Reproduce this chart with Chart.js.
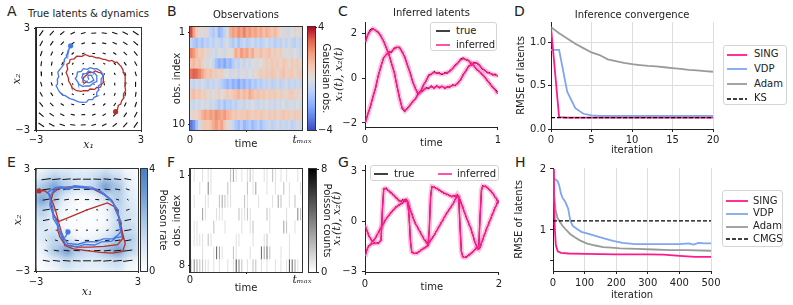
<!DOCTYPE html>
<html>
<head>
<meta charset="utf-8">
<script src="https://cdn.jsdelivr.net/npm/chart.js@4.4.1/dist/chart.umd.min.js"></script>
<style>
  html, body { margin: 0; padding: 0; background: #fff; }
  body { position: relative; width: 793px; height: 305px; overflow: hidden; font-family: "DejaVu Sans", sans-serif; color: #222; }
  canvas { position: absolute; }
  .tag { position: absolute; font-size: 14px; line-height: 14px; }
  .ptitle { position: absolute; font-size: 10px; line-height: 12px; text-align: center; white-space: nowrap; }
  .legend { position: absolute; background: #fff; border: 1px solid #d4d4d4; border-radius: 3px; box-sizing: border-box; font-size: 10px; }
  .legend .txt { position: absolute; height: 12px; line-height: 12px; white-space: nowrap; }
  .legend svg { position: absolute; }
</style>
</head>
<body>
<div class="tag" style="left:7px;top:4px">A</div>
<div class="tag" style="left:167px;top:4px">B</div>
<div class="tag" style="left:338px;top:4px">C</div>
<div class="tag" style="left:514px;top:4px">D</div>
<div class="tag" style="left:7px;top:155px">E</div>
<div class="tag" style="left:167px;top:155px">F</div>
<div class="tag" style="left:338px;top:155px">G</div>
<div class="tag" style="left:515px;top:155px">H</div>
<div class="ptitle" style="left:0;width:177px;top:8px">True latents &amp; dynamics</div>

<canvas id="cA" width="165" height="152" style="left:0;top:0"></canvas>
<canvas id="cB" width="165" height="152" style="left:150px;top:0"></canvas>
<canvas id="cBcb" width="50" height="152" style="left:300px;top:0"></canvas>
<canvas id="cC" width="175" height="152" style="left:330px;top:0"></canvas>
<canvas id="cD" width="220" height="158" style="left:505px;top:0"></canvas>
<canvas id="cE" width="160" height="153" style="left:0;top:152px"></canvas>
<canvas id="cEcb" width="40" height="153" style="left:138px;top:152px"></canvas>
<canvas id="cF" width="165" height="153" style="left:150px;top:152px"></canvas>
<canvas id="cFcb" width="50" height="153" style="left:300px;top:152px"></canvas>
<canvas id="cG" width="175" height="153" style="left:330px;top:152px"></canvas>
<canvas id="cH" width="220" height="153" style="left:505px;top:152px"></canvas>

<script>
// ---------- data ----------

// A: true latent trajectories (start at the dot) and vector field
const aBlueX = [-1.02,-1.10,-1.11,-1.20,-1.19,-1.27,-1.24,-1.38,-1.37,-1.42,-1.41,-1.55,-1.60,-1.73,-1.75,-1.70,-1.78,-1.77,-1.85,-1.72,-1.66,-1.47,-1.33,-1.07,-0.86,-0.57,-0.38,-0.12,0.00,0.23,0.32,0.48,0.47,0.59,0.57,0.73,0.72,0.83,0.76,0.68,0.47,0.33,0.09,-0.05,-0.29,-0.42,-0.63,-0.67,-0.76,-0.59,-0.57,-0.32,-0.19,0.08,0.25,0.45,0.47,0.48,0.32,0.21,0.00,-0.12,-0.33,-0.38,-0.33,-0.07,0.07,0.31,0.19,0.19,-0.01,-0.04,0.03];
const aBlueY = [1.95,1.82,1.77,1.59,1.54,1.37,1.31,1.17,1.15,0.95,0.86,0.67,0.61,0.44,0.38,0.12,-0.01,-0.28,-0.40,-0.65,-0.75,-0.95,-0.98,-1.15,-1.21,-1.35,-1.37,-1.36,-1.21,-1.21,-1.08,-1.01,-0.79,-0.65,-0.40,-0.28,-0.01,0.15,0.38,0.47,0.61,0.59,0.67,0.57,0.61,0.45,0.41,0.15,0.03,-0.21,-0.30,-0.45,-0.40,-0.41,-0.25,-0.15,0.08,0.19,0.38,0.39,0.47,0.33,0.28,0.07,-0.01,-0.21,-0.21,-0.07,0.15,0.22,0.23,0.12,-0.04];
const aRedX = [1.55,1.66,1.70,1.84,1.90,2.01,2.00,2.12,2.08,2.14,2.09,2.10,2.00,1.98,1.85,1.78,1.62,1.53,1.33,1.18,0.95,0.83,0.57,0.43,0.19,0.05,-0.19,-0.37,-0.67,-0.82,-1.05,-1.09,-1.24,-1.19,-1.28,-1.15,-1.14,-0.99,-0.95,-0.75,-0.67,-0.42,-0.29,-0.02,0.09,0.35,0.47,0.68,0.76,0.88,0.86,0.83,0.67,0.58,0.38,0.23,0.00,-0.09,-0.29,-0.32,-0.23,-0.05];
const aRedY = [-1.92,-1.78,-1.56,-1.48,-1.27,-1.13,-0.88,-0.68,-0.40,-0.25,-0.01,0.15,0.38,0.52,0.76,0.82,1.00,0.97,1.09,1.05,1.15,1.15,1.25,1.24,1.34,1.33,1.44,1.33,1.34,1.19,1.15,0.95,0.86,0.57,0.38,0.07,-0.11,-0.38,-0.50,-0.65,-0.69,-0.73,-0.69,-0.69,-0.59,-0.61,-0.50,-0.48,-0.30,-0.18,0.08,0.22,0.38,0.39,0.47,0.37,0.38,0.25,0.08,-0.18,-0.25,-0.10];
const aGridX = [-2.7,-2.1,-1.5,-0.9,-0.3,0.3,0.9,1.5,2.1,2.7];
const aGridY = [2.7,2.1,1.5,0.9,0.3,-0.3,-0.9,-1.5,-2.1,-2.7];
const aDx = [
  [-0.22,-0.23,-0.24,-0.25,-0.26,-0.28,-0.29,-0.30,-0.31,-0.32],
  [-0.16,-0.17,-0.18,-0.19,-0.20,-0.22,-0.23,-0.24,-0.25,-0.26],
  [-0.10,-0.11,-0.12,-0.13,-0.14,-0.16,-0.17,-0.18,-0.19,-0.20],
  [-0.04,-0.05,-0.06,-0.07,-0.08,-0.10,-0.11,-0.12,-0.13,-0.14],
  [0.02,0.01,0.00,-0.01,-0.02,-0.04,-0.05,-0.06,-0.07,-0.08],
  [0.08,0.07,0.06,0.05,0.04,0.02,0.01,0.00,-0.01,-0.02],
  [0.14,0.13,0.12,0.11,0.10,0.08,0.07,0.06,0.05,0.04],
  [0.20,0.19,0.18,0.17,0.16,0.14,0.13,0.12,0.11,0.10],
  [0.26,0.25,0.24,0.23,0.22,0.20,0.19,0.18,0.17,0.16],
  [0.32,0.31,0.30,0.29,0.28,0.26,0.25,0.24,0.23,0.22]];
const aDy = [
  [-0.32,-0.26,-0.20,-0.14,-0.08,-0.02,0.04,0.10,0.16,0.22],
  [-0.31,-0.25,-0.19,-0.13,-0.07,-0.01,0.05,0.11,0.17,0.23],
  [-0.30,-0.24,-0.18,-0.12,-0.06,0.00,0.06,0.12,0.18,0.24],
  [-0.29,-0.23,-0.17,-0.11,-0.05,0.01,0.07,0.13,0.19,0.25],
  [-0.28,-0.22,-0.16,-0.10,-0.04,0.02,0.08,0.14,0.20,0.26],
  [-0.26,-0.20,-0.14,-0.08,-0.02,0.04,0.10,0.16,0.22,0.28],
  [-0.25,-0.19,-0.13,-0.07,-0.01,0.05,0.11,0.17,0.23,0.29],
  [-0.24,-0.18,-0.12,-0.06,0.00,0.06,0.12,0.18,0.24,0.30],
  [-0.23,-0.17,-0.11,-0.05,0.01,0.07,0.13,0.19,0.25,0.31],
  [-0.22,-0.16,-0.10,-0.04,0.02,0.08,0.14,0.20,0.26,0.32]];

// B: Gaussian observations, 10 channels x 40 time bins
const obsRows = [
  [3.2,1.8,0.6,0.3,-0.2,0.4,-0.3,-0.8,-1.2,-0.6,-1.8,-1.4,-0.7,-0.2,1.4,1.9,1.6,2.2,1.8,2.4,1.7,2.0,1.5,1.8,1.3,1.6,1.1,1.5,1.2,0.9,1.3,0.8,0.2,-0.3,0.4,-0.5,0.1,0.5,-0.2,0.3],
  [-0.6,-1.2,-1.5,-1.0,-1.4,-0.8,-1.1,-0.5,-0.9,-0.3,-0.6,-1.0,-0.4,-0.2,-0.8,-1.2,-0.6,-1.4,-0.9,-0.5,-1.1,-0.7,-0.3,-0.9,-0.5,-1.0,-0.6,-0.2,-0.8,-0.5,-1.1,-0.6,-0.9,-0.4,-0.8,-0.3,-0.7,-1.0,-0.5,-0.8],
  [2.4,2.0,1.2,0.6,0.9,0.3,0.5,-0.4,-0.2,-0.6,0.1,-0.3,-0.5,0.2,-0.1,0.4,1.6,1.2,2.0,1.5,1.8,1.1,1.6,0.9,0.7,1.2,0.6,0.9,1.1,0.5,0.8,0.4,0.7,0.3,-0.2,0.2,-0.4,0.1,-0.3,-0.6],
  [1.0,1.3,0.8,1.1,0.5,0.2,-0.3,0.1,-0.6,-1.4,-2.0,-1.6,-2.2,-1.5,-1.8,-1.1,-0.6,-0.9,-0.3,-0.7,-0.2,-0.5,0.1,-0.2,0.3,0.0,0.4,0.7,0.5,0.9,0.6,0.8,0.4,0.9,0.6,0.3,0.8,0.5,0.7,0.4],
  [2.6,3.0,2.8,2.4,1.8,1.2,0.9,1.1,0.6,0.8,0.4,0.6,-0.2,0.1,-0.5,-0.3,0.2,-0.6,-0.2,0.3,-0.4,0.0,-0.3,0.2,0.4,0.8,0.5,0.9,0.6,1.0,0.7,0.4,0.8,1.1,0.5,0.7,0.9,0.4,0.6,0.8],
  [-0.4,-0.8,-0.3,-0.6,-0.2,-0.5,-0.9,-0.4,-0.7,-0.3,-0.6,-1.0,-1.4,-1.8,-1.3,-2.0,-1.6,-2.2,-1.5,-1.9,-1.2,-1.6,-1.0,-1.3,-0.8,-1.1,-0.6,-0.9,-0.5,-1.0,-0.7,-0.4,-0.9,-0.6,-0.3,-0.8,-0.5,-0.7,-0.4,-0.6],
  [0.8,1.2,0.6,1.0,0.4,0.7,0.2,0.5,-0.1,0.3,0.6,0.1,0.4,0.8,0.5,0.9,1.1,1.4,0.9,1.3,1.0,1.6,1.2,0.8,1.1,0.7,1.0,0.5,0.8,0.6,0.9,0.4,0.7,0.5,0.3,0.6,0.8,0.4,0.5,0.2],
  [-0.3,-0.6,-0.2,-0.5,0.1,-0.4,-0.2,-0.6,-0.3,-0.8,-1.2,-0.7,-1.4,-0.9,-1.1,-0.6,-1.0,-0.5,-0.3,-0.7,-0.2,-0.5,0.0,-0.4,-0.6,-0.2,-0.5,-0.1,-0.4,-0.3,-0.6,-0.2,-0.4,-0.1,-0.5,-0.3,-0.2,-0.4,-0.1,-0.3],
  [0.2,0.5,0.3,0.8,1.4,1.8,1.5,2.0,1.7,2.2,1.9,1.6,2.0,1.4,1.2,0.8,1.0,0.6,0.9,0.7,1.1,0.8,0.5,0.9,0.6,1.0,0.7,0.5,0.8,0.6,0.9,0.4,0.7,1.0,0.6,0.8,0.5,0.9,0.7,0.6],
  [-3.2,-2.6,-1.4,-0.3,0.6,0.9,0.7,1.1,1.6,2.0,1.4,1.8,0.9,0.3,-0.2,-0.6,-1.2,-1.6,-1.0,-1.8,-1.4,-1.1,-1.7,-1.3,-0.9,-1.5,-1.0,-0.8,-0.5,-0.9,-0.6,-0.3,-0.8,-0.5,-0.7,-0.4,-0.9,-0.6,-0.3,-0.5]];

// C: inferred vs true latents (Gaussian), 51 samples on [0, 1]
const cX1True = [1.55,1.95,2.18,2.24,2.12,2.08,1.86,1.68,1.35,1.09,0.64,0.29,-0.34,-0.86,-1.36,-1.49,-1.31,-1.22,-1.01,-0.94,-0.68,-0.59,-0.28,-0.13,0.16,0.17,0.31,0.21,0.25,0.15,0.26,0.22,0.36,0.42,0.61,0.67,0.87,0.91,0.82,0.81,0.64,0.58,0.38,0.33,0.16,0.09,-0.12,-0.21,-0.42,-0.48,-0.62];
const cX2True = [-2.05,-1.61,-1.29,-0.81,-0.44,0.14,0.51,0.94,1.04,1.18,1.16,1.36,1.37,1.40,1.16,0.96,0.56,0.26,-0.19,-0.44,-0.73,-0.58,-0.56,-0.41,-0.47,-0.33,-0.46,-0.32,-0.44,-0.34,-0.46,-0.37,-0.40,-0.29,-0.34,-0.18,-0.09,0.19,0.31,0.56,0.58,0.72,0.66,0.62,0.41,0.38,0.24,0.26,0.14,0.19,0.08];
const cX1Inf = [1.60,1.92,2.12,2.21,2.15,2.04,1.90,1.65,1.39,1.05,0.68,0.25,-0.30,-0.90,-1.32,-1.45,-1.35,-1.18,-1.05,-0.90,-0.72,-0.55,-0.32,-0.10,0.12,0.20,0.26,0.25,0.21,0.19,0.22,0.26,0.32,0.45,0.57,0.70,0.83,0.88,0.85,0.78,0.68,0.55,0.42,0.30,0.20,0.06,-0.08,-0.25,-0.38,-0.52,-0.70];
const cX2Inf = [-2.00,-1.65,-1.25,-0.85,-0.40,0.10,0.55,0.90,1.08,1.14,1.20,1.32,1.40,1.36,1.20,0.92,0.60,0.22,-0.15,-0.48,-0.68,-0.62,-0.52,-0.45,-0.42,-0.38,-0.42,-0.36,-0.40,-0.37,-0.42,-0.40,-0.36,-0.33,-0.30,-0.22,-0.05,0.15,0.35,0.52,0.62,0.68,0.70,0.58,0.45,0.35,0.28,0.22,0.18,0.14,0.12];

// D: inference convergence, Gaussian
const dIter = [0,1,2,3,4,5,6,7,8,9,10,11,12,13,14,15,16,17,18,19,20];
const dSing = [1.17,0.135,0.13,0.13,0.13,0.13,0.13,0.13,0.13,0.13,0.13,0.13,0.13,0.13,0.13,0.13,0.13,0.13,0.13,0.13,0.13];
const dVdp = [0.91,0.91,0.43,0.24,0.175,0.156,0.152,0.152,0.151,0.151,0.15,0.15,0.15,0.15,0.15,0.15,0.15,0.15,0.15,0.15,0.15];
const dAdam = [1.17,1.10,1.04,0.98,0.93,0.88,0.85,0.80,0.78,0.76,0.745,0.735,0.726,0.72,0.71,0.70,0.69,0.68,0.673,0.665,0.658];
const dKS = 0.13;

// E: Poisson-process latents, rate map and vector field
const eBlueX = [-1.12,-1.26,-1.49,-1.52,-1.70,-1.76,-1.99,-2.01,-2.19,-2.15,-2.29,-1.86,-1.55,-1.12,-0.74,-0.14,0.26,0.84,1.05,1.44,1.55,1.83,1.84,2.03,1.95,2.06,1.70,1.43,0.86,0.45,-0.14,-0.53,-1.20,-1.41,-1.60,-1.71,-1.99,-2.01,-2.20,-2.01,-1.74,-1.16,-0.64,0.04,0.56,1.04,1.26,1.59,1.66,1.89,1.88,1.99,1.86,1.54,0.96,0.54,-0.04,-0.56,-1.14,-1.31,-1.54];
const eBlueY = [-0.70,-0.99,-1.10,-0.84,-0.51,-0.29,0.08,0.36,0.86,1.16,1.64,1.91,1.96,1.88,2.02,1.96,1.94,1.68,1.52,1.18,0.96,0.59,0.29,-0.20,-0.51,-0.98,-1.04,-1.26,-1.29,-1.47,-1.44,-1.57,-1.51,-1.18,-0.76,-0.24,0.34,0.76,1.34,1.66,1.92,1.81,1.94,1.86,1.79,1.46,1.29,0.91,0.64,0.16,-0.16,-0.64,-0.86,-1.09,-1.11,-1.29,-1.28,-1.44,-1.38,-1.14,-0.66];
const eRedX = [-2.82,-2.50,-2.20,-2.00,-1.80,-1.65,-1.45,-1.30,-0.80,0.00,0.80,1.50,2.10,2.25,2.10,1.95,1.80,1.50,1.00,0.40,-0.30,-1.00,-1.60,-2.00,-2.15,-1.95,-1.70,-1.20,-0.60,0.00,0.60,1.20,1.60,1.85,2.00,2.10,1.80,1.00,0.20,-0.60,-1.30,-1.60,-1.75];
const eRedY = [1.71,1.72,1.50,1.00,0.40,-0.20,-0.90,-1.50,-1.70,-1.80,-1.90,-1.95,-1.85,-1.40,-0.80,-0.10,0.50,1.10,1.50,1.80,1.95,1.95,1.90,1.60,1.00,0.30,-0.10,0.10,0.35,0.60,0.80,1.00,0.80,0.20,-0.50,-1.10,-1.45,-1.55,-1.60,-1.60,-1.45,-1.00,-0.50];
const rateX = [-2.625,-1.875,-1.125,-0.375,0.375,1.125,1.875,2.625];
const rateY = [2.625,1.875,1.125,0.375,-0.375,-1.125,-1.875,-2.625];
const rateGrid = [
  [0.8,1.6,1.3,1.0,1.2,1.8,1.2,0.4],
  [2.2,3.6,2.0,1.2,1.6,3.8,2.4,0.6],
  [3.6,2.2,0.6,0.2,0.3,1.0,2.2,0.9],
  [2.0,1.0,0.2,0.1,0.1,0.3,1.8,1.2],
  [1.2,0.8,0.2,0.1,0.1,0.3,1.6,1.4],
  [0.9,1.8,0.8,0.3,0.4,1.0,2.2,2.0],
  [0.5,2.2,3.8,2.0,1.6,2.4,3.8,1.8],
  [0.2,0.6,1.4,1.0,0.8,1.0,1.4,0.4]];
const eGridX = [-2.4,-1.8,-1.2,-0.6,0,0.6,1.2,1.8,2.4];
const eGridY = [2.4,1.8,1.2,0.6,0,-0.6,-1.2,-1.8,-2.4];
const eDx = [
  [0.55,0.50,0.48,0.47,0.46,0.45,0.44,0.42,0.40],
  [0.52,0.45,0.40,0.38,0.37,0.36,0.34,0.30,0.22],
  [0.41,0.33,0.28,0.26,0.25,0.24,0.22,0.17,0.10],
  [0.42,0.22,0.14,0.12,0.12,0.11,0.09,0.02,-0.20],
  [0.38,0.10,0.03,0.01,0.00,-0.01,-0.03,-0.10,-0.38],
  [0.20,-0.02,-0.09,-0.11,-0.12,-0.12,-0.14,-0.22,-0.42],
  [-0.10,-0.17,-0.22,-0.24,-0.25,-0.26,-0.28,-0.33,-0.41],
  [-0.22,-0.30,-0.34,-0.36,-0.37,-0.38,-0.40,-0.45,-0.52],
  [-0.40,-0.42,-0.44,-0.45,-0.46,-0.47,-0.48,-0.50,-0.55]];
const eDy = [0.07,0.05,0.04,0.02,0.00,-0.02,-0.04,-0.05,-0.07];

// F: Poisson counts, 8 channels x 40 time bins
const countRows = [
  [0,1,0,0,1,0,1,1,0,0,0,0,0,0,2,3,1,0,1,0,1,2,1,0,0,0,1,1,0,2,1,0,1,0,1,0,0,0,1,0],
  [0,0,0,1,0,0,4,1,0,0,0,0,0,2,1,0,0,0,0,0,2,0,1,3,0,0,0,1,0,0,1,0,0,2,0,1,0,0,0,1],
  [0,1,0,0,0,1,1,0,0,0,2,3,2,1,1,0,0,0,0,2,1,0,0,0,1,0,0,0,0,1,0,3,2,0,0,1,0,2,0,0],
  [0,0,0,0,3,1,0,0,0,1,1,1,0,0,0,0,0,2,1,1,2,1,0,0,0,0,0,2,1,0,0,0,0,0,1,0,0,0,4,2],
  [0,1,1,0,0,0,0,0,2,0,0,0,1,0,0,0,0,0,1,0,0,1,2,0,0,0,0,0,1,0,0,0,0,3,2,0,0,1,0,0],
  [0,1,1,1,1,0,2,1,0,0,0,0,0,0,0,0,1,1,0,0,0,0,1,0,0,0,1,2,0,0,0,0,0,0,0,1,0,0,0,0],
  [0,0,0,0,1,0,0,0,1,5,3,1,0,0,0,2,1,0,0,0,0,1,0,0,0,5,3,5,2,0,0,0,1,0,0,1,0,0,0,0],
  [1,4,3,2,2,1,1,0,1,0,1,0,0,1,0,1,6,4,2,0,1,0,2,2,0,1,0,1,0,0,1,0,1,0,1,6,5,3,1,0]];

// G: inferred vs true latents (Poisson), 101 samples on [0, 2]
const gX1True = [-2.20,-1.80,-1.64,-1.45,-1.46,-1.31,-1.38,-1.30,-1.37,-1.29,-1.36,-1.21,-1.18,0.70,1.95,1.92,1.99,1.82,1.83,1.68,1.70,1.53,1.54,1.37,1.38,1.21,1.24,1.15,1.29,1.22,1.30,1.17,1.12,0.16,-1.25,-1.90,-1.88,-1.98,-1.90,-1.96,-1.82,-1.84,-1.70,-1.72,-1.60,-1.62,-1.50,-1.50,-0.56,1.44,2.10,2.00,2.05,1.93,1.97,1.84,1.86,1.74,1.76,1.63,1.67,1.57,1.61,1.50,1.53,1.43,1.54,1.48,1.53,1.44,1.49,-0.30,-1.84,-2.10,-2.22,-2.14,-2.18,-2.04,-2.06,-1.92,-1.93,-1.78,-1.76,-1.60,-1.62,-1.50,0.30,1.81,2.14,2.05,2.11,1.99,1.99,1.84,1.84,1.66,1.64,1.42,1.40,1.18,1.10];
const gX2True = [-0.20,-0.52,-0.66,-0.95,-1.00,-1.21,-1.20,-1.08,-1.02,-0.80,-0.72,-0.50,-0.44,-0.22,-0.16,0.06,0.12,0.30,0.32,0.50,0.52,0.69,0.70,0.86,0.84,0.97,0.94,1.07,1.04,1.18,1.16,1.30,1.04,0.90,0.60,0.46,0.16,0.00,-0.24,-0.30,-0.53,-0.60,-0.82,-0.89,-1.11,-1.15,-1.33,-1.34,-1.32,-1.13,-1.09,-0.90,-0.84,-0.62,-0.56,-0.34,-0.28,-0.06,0.00,0.22,0.28,0.50,0.54,0.74,0.78,0.98,1.02,1.26,1.36,1.59,1.36,1.28,1.02,0.87,0.56,0.41,0.12,0.00,-0.28,-0.40,-0.72,-0.92,-1.28,-1.40,-1.68,-1.66,-1.60,-1.30,-1.15,-0.84,-0.70,-0.40,-0.28,0.00,0.12,0.40,0.52,0.80,0.89,1.14,1.22];
const gX1Inf = [-2.14,-1.85,-1.60,-1.50,-1.42,-1.37,-1.34,-1.34,-1.33,-1.34,-1.32,-1.25,-1.14,0.66,1.90,1.96,1.92,1.86,1.79,1.73,1.66,1.58,1.50,1.42,1.34,1.26,1.18,1.20,1.24,1.26,1.26,1.22,1.16,0.20,-1.20,-1.86,-1.92,-1.94,-1.94,-1.92,-1.86,-1.80,-1.74,-1.69,-1.64,-1.58,-1.54,-1.47,-0.60,1.40,2.06,2.04,2.01,1.97,1.94,1.88,1.82,1.78,1.73,1.68,1.64,1.62,1.58,1.54,1.50,1.47,1.50,1.52,1.50,1.48,1.45,-0.34,-1.80,-2.14,-2.18,-2.18,-2.14,-2.08,-2.02,-1.96,-1.90,-1.82,-1.72,-1.64,-1.58,-1.54,0.26,1.85,2.10,2.09,2.07,2.03,1.96,1.88,1.80,1.70,1.60,1.46,1.36,1.22,1.06];
const gX2Inf = [-0.24,-0.48,-0.70,-0.90,-1.04,-1.16,-1.24,-1.12,-0.98,-0.84,-0.68,-0.54,-0.40,-0.26,-0.12,0.02,0.16,0.26,0.36,0.46,0.56,0.65,0.74,0.82,0.88,0.93,0.98,1.03,1.08,1.14,1.20,1.26,1.08,0.86,0.64,0.42,0.20,-0.04,-0.20,-0.34,-0.49,-0.64,-0.78,-0.93,-1.07,-1.19,-1.29,-1.38,-1.28,-1.17,-1.05,-0.94,-0.80,-0.66,-0.52,-0.38,-0.24,-0.10,0.04,0.18,0.32,0.46,0.58,0.70,0.82,0.94,1.06,1.22,1.40,1.55,1.40,1.24,1.06,0.83,0.60,0.37,0.16,-0.04,-0.24,-0.44,-0.68,-0.96,-1.24,-1.44,-1.64,-1.70,-1.56,-1.34,-1.11,-0.88,-0.66,-0.44,-0.24,-0.04,0.16,0.36,0.56,0.76,0.93,1.10,1.26];

// H: inference convergence, Poisson
const hSingIter = [0,3,6,9,15,25,50,100,200,300,350,400,450,500];
const hSing = [2.0,1.5,1.0,0.75,0.65,0.625,0.615,0.61,0.60,0.60,0.595,0.575,0.56,0.56];
const hVdpIter = [0,3,10,15,20,25,30,40,48,55,62,75,90,110,150,190,220,260,300,350,400,430,445,460,480,500];
const hVdp = [1.95,1.85,1.82,1.80,1.72,1.60,1.53,1.45,1.35,1.15,1.07,1.02,0.97,0.94,0.88,0.82,0.79,0.77,0.77,0.77,0.77,0.78,0.76,0.79,0.78,0.78];
const hAdamIter = [0,4,8,14,21,30,42,55,69,85,106,130,159,185,212,265,318,371,424,500];
const hAdam = [2.0,1.55,1.33,1.20,1.14,1.07,1.00,0.93,0.88,0.83,0.78,0.75,0.72,0.71,0.70,0.69,0.68,0.67,0.67,0.66];
const hCmgs = 1.15;

// ---------- styling ----------
const PINK = '#ff1a8c';
const PINK_BAND = 'rgba(255,26,140,0.28)';
const VDP_BLUE = '#7fa6ee';
const ADAM_GRAY = '#9a9a9a';
const RED = '#b5302e';
const BLUE = '#4677e6';
const MATH = { family: '"DejaVu Serif", serif', style: 'italic', size: 11 };
const SANS = { family: '"DejaVu Sans", sans-serif', size: 10 };

const COOLWARM = [[59,76,192],[98,130,234],[141,176,254],[184,208,249],[221,221,221],[245,196,173],[244,154,123],[222,96,77],[180,4,38]];
const BLUES = [[255,255,255],[214,229,244],[165,198,230],[112,158,212],[72,126,196]];
const GREYS = [[255,255,255],[0,0,0]];

function cmap(stops, t) {
  t = Math.max(0, Math.min(1, t));
  const p = t * (stops.length - 1);
  const i = Math.min(Math.floor(p), stops.length - 2);
  const f = p - i;
  const c = stops[i].map((v, k) => Math.round(v + (stops[i + 1][k] - v) * f));
  return `rgb(${c})`;
}

Chart.defaults.font.family = SANS.family;
Chart.defaults.font.size = 10;
Chart.defaults.color = '#222';
Chart.defaults.animation = false;
Chart.defaults.responsive = false;
Chart.defaults.maintainAspectRatio = false;
Chart.defaults.plugins.legend.display = false;
Chart.defaults.plugins.tooltip.enabled = false;
Chart.defaults.elements.point.radius = 0;
Chart.defaults.elements.line.tension = 0;

// box around the axes (imshow / quiver panels and colorbars)
Chart.register({
  id: 'frame',
  afterDatasetsDraw(chart, args, opts) {
    if (!opts.show) return;
    const { ctx, chartArea: a } = chart;
    ctx.save();
    ctx.strokeStyle = opts.color || '#333';
    ctx.lineWidth = 1;
    ctx.strokeRect(a.left - 0.5, a.top - 0.5, a.width + 1, a.height + 1);
    ctx.restore();
  }
});

// smooth rate map in panel E
Chart.register({
  id: 'blur',
  beforeDatasetDraw(chart, args) {
    const ds = chart.data.datasets[args.index];
    if (ds.blur) { chart.ctx.save(); chart.ctx.filter = `blur(${ds.blur}px)`; }
  },
  afterDatasetDraw(chart, args) {
    if (chart.data.datasets[args.index].blur) chart.ctx.restore();
  }
});

function axis(o) {
  const horiz = o.pos === 'bottom';
  return {
    type: 'linear', position: o.pos, min: o.min, max: o.max, reverse: !!o.reverse, offset: false,
    afterBuildTicks: s => { s.ticks = o.ticks.map(v => ({ value: v })); },
    afterFit: s => { if (horiz) s.height = o.size; else s.width = o.size; },
    ticks: {
      autoSkip: false, maxRotation: 0, padding: o.pad, color: '#222', font: o.tickFont,
      callback: (v, i) => o.labels[i]
    },
    grid: {
      drawOnChartArea: !!o.grid, color: '#dedede', lineWidth: 1,
      drawTicks: o.tl > 0, tickLength: o.tl, tickColor: '#222', tickWidth: 1
    },
    border: { display: o.border !== false, color: '#222', width: 1 },
    title: o.title
      ? { display: true, text: o.title, padding: o.tpad, font: o.tfont || SANS, color: '#222' }
      : { display: false }
  };
}

function title(text, top, bottom) {
  return { display: true, text, fullSize: false, padding: { top, bottom }, font: { size: 10, weight: 'normal' }, color: '#222' };
}

const pts = (xs, ys) => xs.slice(0, ys.length).map((x, i) => ({ x, y: ys[i] }));
const series = (ys, T) => ys.map((y, i) => ({ x: i * T / (ys.length - 1), y }));

function quiver(gx, gy, dx, dy) {
  const out = [];
  gy.forEach((y, r) => gx.forEach((x, c) => {
    const u = dx[r][c], v = Array.isArray(dy[r]) ? dy[r][c] : dy[c];
    out.push({ x: x - u / 2, y: y - v / 2 }, { x: x + u / 2, y: y + v / 2 }, { x: x, y: null });
  }));
  return out;
}

function trajectory(data, color, order) {
  return {
    data, showLine: true, borderColor: color, borderWidth: 1.3, order,
    pointRadius: c => c.dataIndex === 0 ? 2.6 : 0, pointBackgroundColor: color, pointBorderWidth: 0
  };
}

function colorbar(id, stops, min, max, labels, text, pad, size, tl, tpad, gap) {
  return new Chart(document.getElementById(id), {
    type: 'bar',
    data: {
      labels: [''],
      datasets: [{
        data: [[min, max]], barPercentage: 1, categoryPercentage: 1, borderWidth: 0,
        backgroundColor: c => {
          const a = c.chart.chartArea;
          if (!a) return 'transparent';
          const g = c.chart.ctx.createLinearGradient(0, a.bottom, 0, a.top);
          stops.forEach((s, i) => g.addColorStop(i / (stops.length - 1), `rgb(${s})`));
          return g;
        }
      }]
    },
    options: {
      layout: { padding: pad },
      plugins: { frame: { show: true } },
      scales: {
        x: { display: false },
        y: axis({ pos: 'right', min, max, ticks: [min, max], labels, size, tl, pad: gap,
                  border: false, title: text, tpad: { top: tpad, bottom: 0 } })
      }
    }
  });
}

function heatmap(rows, colorOf, barPct) {
  return rows.map((row, r) => ({
    data: row.map((v, c) => ({ x: c + 0.5, y: [r, r + 1] })),
    backgroundColor: row.map(colorOf),
    barPercentage: barPct, categoryPercentage: 1, grouped: false, borderWidth: 0
  }));
}

function htmlLegend(chart, box, items) {
  const el = document.createElement('div');
  el.className = 'legend';
  Object.assign(el.style, { left: box[0] + 'px', top: box[1] + 'px', width: box[2] + 'px', height: box[3] + 'px' });
  items.forEach(it => {
    const ds = chart.data.datasets[it.ds];
    const w = it.l1 - it.l0;
    const dash = ds.borderDash ? ` stroke-dasharray="${ds.borderDash.join(',')}"` : '';
    el.insertAdjacentHTML('beforeend',
      `<svg width="${w}" height="6" style="left:${it.l0}px;top:${it.y - 3}px">` +
      `<line x1="0" y1="3" x2="${w}" y2="3" stroke="${ds.borderColor}" stroke-width="${Math.max(ds.borderWidth, 1.5)}"${dash}/></svg>` +
      `<div class="txt" style="left:${it.tx}px;top:${it.y - 6.5}px">${ds.label}</div>`);
  });
  document.body.appendChild(el);
}

// ---------- A ----------
new Chart(document.getElementById('cA'), {
  type: 'scatter',
  data: {
    datasets: [
      { data: quiver(aGridX, aGridY, aDx, aDy), showLine: true, borderColor: '#111', borderWidth: 1.1, order: 3 },
      trajectory(pts(aRedX, aRedY), RED, 2),
      trajectory(pts(aBlueX, aBlueY), BLUE, 1)
    ]
  },
  options: {
    layout: { padding: { left: 0, right: 24, top: 28, bottom: 0 } },
    plugins: { frame: { show: true } },
    scales: {
      x: axis({ pos: 'bottom', min: -3, max: 3, ticks: [-3, 3], labels: ['\u22123', '3'], size: 22, tl: 2, pad: 2,
                title: 'x\u2081', tfont: MATH, tpad: { top: 0, bottom: 0 } }),
      y: axis({ pos: 'left', min: -3, max: 3, ticks: [-3, 3], labels: ['\u22123', '3'], size: 36, tl: 2, pad: 4,
                title: 'x\u2082', tfont: MATH, tpad: { top: 11, bottom: 0 } })
    }
  }
});

// ---------- B ----------
const tmaxFont = c => c.index === 1 ? MATH : SANS;
new Chart(document.getElementById('cB'), {
  type: 'bar',
  data: { datasets: heatmap(obsRows, v => cmap(COOLWARM, (v + 4) / 8), 1) },
  options: {
    layout: { padding: { left: 0, right: 13, top: 0, bottom: 0 } },
    plugins: { title: title('Observations', 9, 6), frame: { show: true } },
    scales: {
      x: axis({ pos: 'bottom', min: 0, max: 40, ticks: [0, 40], labels: ['0', 't\u2098\u2090\u2093'], size: 22, tl: 2, pad: 2,
                tickFont: tmaxFont, title: 'time', tpad: { top: 0, bottom: 2 } }),
      y: axis({ pos: 'left', min: 0, max: 10, reverse: true, ticks: [0.5, 9.5], labels: ['1', '10'], size: 40, tl: 2, pad: 3,
                title: 'obs. index', tpad: { top: 21, bottom: 0 } })
    }
  }
});
colorbar('cBcb', COOLWARM, -4, 4, ['\u22124', '4'], 'Gaussian obs.', { left: 8, right: 0, top: 27, bottom: 22 }, 35, 2, 18, 1);

// ---------- C ----------
const cChart = new Chart(document.getElementById('cC'), {
  type: 'line',
  data: {
    datasets: [
      { label: 'true', data: series(cX1True, 1), borderColor: '#000', borderWidth: 1, order: 3 },
      { label: 'inferred', data: series(cX1Inf, 1), borderColor: PINK, borderWidth: 1.4, order: 1 },
      { data: series(cX2True, 1), borderColor: '#000', borderWidth: 1, order: 3 },
      { data: series(cX2Inf, 1), borderColor: PINK, borderWidth: 1.4, order: 1 },
      { data: series(cX1Inf, 1), borderColor: PINK_BAND, borderWidth: 5, order: 5 },
      { data: series(cX2Inf, 1), borderColor: PINK_BAND, borderWidth: 5, order: 5 }
    ]
  },
  options: {
    layout: { padding: { left: 0, right: 5, top: 0, bottom: 0 } },
    plugins: { title: title('Inferred latents', 7, 3) },
    scales: {
      x: axis({ pos: 'bottom', min: 0, max: 1, ticks: [0, 1], labels: ['0', '1'], size: 25, tl: 3, pad: 4,
                title: 'time', tpad: { top: 0, bottom: 3 } }),
      y: axis({ pos: 'left', min: -2.18, max: 2.52, ticks: [-2, 0, 2], labels: ['\u22122', '0', '2'], size: 35, tl: 3, pad: 5,
                title: 'x\u2081(t), x\u2082(t)', tfont: MATH, tpad: { top: 3, bottom: 0 } })
    }
  }
});
htmlLegend(cChart, [430, 22, 67, 29], [
  { ds: 0, l0: 5, l1: 19, tx: 25, y: 8 },
  { ds: 1, l0: 5, l1: 19, tx: 25, y: 22 }
]);

// ---------- D ----------
const dChart = new Chart(document.getElementById('cD'), {
  type: 'line',
  data: {
    datasets: [
      { label: 'SING', data: pts(dIter, dSing), borderColor: PINK, borderWidth: 1.8, order: 1 },
      { label: 'VDP', data: pts(dIter, dVdp), borderColor: VDP_BLUE, borderWidth: 1.8, order: 2 },
      { label: 'Adam', data: pts(dIter, dAdam), borderColor: ADAM_GRAY, borderWidth: 1.8, order: 3 },
      { label: 'KS', data: [{ x: 0, y: dKS }, { x: 20, y: dKS }], borderColor: '#000', borderWidth: 1.3, borderDash: [4, 2], order: 0 }
    ]
  },
  options: {
    layout: { padding: { left: 0, right: 12, top: 0, bottom: 0 } },
    plugins: { title: title('Inference convergence', 9, 1) },
    scales: {
      x: axis({ pos: 'bottom', min: 0, max: 20, ticks: [0, 5, 10, 15, 20], labels: ['0', '5', '10', '15', '20'], size: 29, tl: 3, pad: 2,
                grid: true, title: 'iteration', tpad: { top: 0, bottom: 2 } }),
      y: axis({ pos: 'left', min: 0, max: 1.23, ticks: [0, 0.5, 1.0], labels: ['0.0', '0.5', '1.0'], size: 46, tl: 3, pad: 2,
                grid: true, title: 'RMSE of latents', tpad: { top: 10, bottom: 0 } })
    }
  }
});
htmlLegend(dChart, [723, 45, 64, 60], [
  { ds: 0, l0: 3, l1: 23, tx: 30, y: 8.5 },
  { ds: 1, l0: 3, l1: 23, tx: 30, y: 23.3 },
  { ds: 2, l0: 3, l1: 23, tx: 30, y: 38 },
  { ds: 3, l0: 3, l1: 23, tx: 30, y: 52.8 }
]);

// ---------- E ----------
const rateCells = [], rateColors = [];
rateY.forEach((y, r) => rateX.forEach((x, c) => {
  rateCells.push({ x, y });
  rateColors.push(cmap(BLUES, rateGrid[r][c] / 4));
}));
new Chart(document.getElementById('cE'), {
  type: 'scatter',
  data: {
    datasets: [
      { data: rateCells, pointStyle: 'rect', pointRadius: 9.6, pointBackgroundColor: rateColors, pointBorderWidth: 0, blur: 5, order: 5 },
      { data: quiver(eGridX, eGridY, eDx, eDy), showLine: true, borderColor: '#111', borderWidth: 1, order: 3 },
      trajectory(pts(eRedX, eRedY), RED, 2),
      trajectory(pts(eBlueX, eBlueY), BLUE, 1)
    ]
  },
  options: {
    layout: { padding: { left: 0, right: 22, top: 17, bottom: 0 } },
    plugins: { frame: { show: true } },
    scales: {
      x: axis({ pos: 'bottom', min: -3, max: 3, ticks: [-3, 3], labels: ['\u22123', '3'], size: 34, tl: 2, pad: 3,
                title: 'x\u2081', tfont: MATH, tpad: { top: 0, bottom: 6 } }),
      y: axis({ pos: 'left', min: -3, max: 3, ticks: [-3, 3], labels: ['\u22123', '3'], size: 36, tl: 2, pad: 4,
                title: 'x\u2082', tfont: MATH, tpad: { top: 12, bottom: 0 } })
    }
  }
});
colorbar('cEcb', BLUES, 0, 4, ['0', '4'], 'Poisson rate', { left: 3, right: 0, top: 17, bottom: 34 }, 31, 1, 9, 1);

// ---------- F ----------
new Chart(document.getElementById('cF'), {
  type: 'bar',
  data: { datasets: heatmap(countRows, v => cmap(GREYS, v / 8), 0.35) },
  options: {
    layout: { padding: { left: 0, right: 13, top: 17, bottom: 0 } },
    plugins: { frame: { show: true } },
    scales: {
      x: axis({ pos: 'bottom', min: 0, max: 40, ticks: [0, 40], labels: ['0', 't\u2098\u2090\u2093'], size: 33, tl: 2, pad: 0,
                tickFont: tmaxFont, title: 'time', tpad: { top: 0, bottom: 11 } }),
      y: axis({ pos: 'left', min: 0, max: 8, reverse: true, ticks: [0.5, 7.5], labels: ['1', '8'], size: 40, tl: 2, pad: 3,
                title: 'obs. index', tpad: { top: 21, bottom: 0 } })
    }
  }
});
colorbar('cFcb', GREYS, 0, 8, ['0', '8'], 'Poisson counts', { left: 9, right: 0, top: 17, bottom: 33 }, 34, 3, 17, 2);

// ---------- G ----------
const gChart = new Chart(document.getElementById('cG'), {
  type: 'line',
  data: {
    datasets: [
      { label: 'true', data: series(gX1True, 2), borderColor: '#000', borderWidth: 1, order: 3 },
      { label: 'inferred', data: series(gX1Inf, 2), borderColor: PINK, borderWidth: 1.4, order: 1 },
      { data: series(gX2True, 2), borderColor: '#000', borderWidth: 1, order: 3 },
      { data: series(gX2Inf, 2), borderColor: PINK, borderWidth: 1.4, order: 1 },
      { data: series(gX1Inf, 2), borderColor: PINK_BAND, borderWidth: 5, order: 5 },
      { data: series(gX2Inf, 2), borderColor: PINK_BAND, borderWidth: 5, order: 5 }
    ]
  },
  options: {
    layout: { padding: { left: 0, right: 5, top: 13, bottom: 0 } },
    scales: {
      x: axis({ pos: 'bottom', min: 0, max: 2, ticks: [0, 2], labels: ['0', '2'], size: 33, tl: 3, pad: 3,
                title: 'time', tpad: { top: 0, bottom: 12 } }),
      y: axis({ pos: 'left', min: -3.06, max: 3.36, ticks: [-3, 0, 3], labels: ['\u22123', '0', '3'], size: 35, tl: 3, pad: 5,
                title: 'x\u2081(t), x\u2082(t)', tfont: MATH, tpad: { top: 1, bottom: 0 } })
    }
  }
});
htmlLegend(gChart, [370, 165, 129, 16], [
  { ds: 0, l0: 3, l1: 17, tx: 23, y: 8 },
  { ds: 1, l0: 67, l1: 81, tx: 86, y: 8 }
]);

// ---------- H ----------
const hChart = new Chart(document.getElementById('cH'), {
  type: 'line',
  data: {
    datasets: [
      { label: 'SING', data: pts(hSingIter, hSing), borderColor: PINK, borderWidth: 1.8, order: 1 },
      { label: 'VDP', data: pts(hVdpIter, hVdp), borderColor: VDP_BLUE, borderWidth: 1.8, order: 2 },
      { label: 'Adam', data: pts(hAdamIter, hAdam), borderColor: ADAM_GRAY, borderWidth: 1.8, order: 3 },
      { label: 'CMGS', data: [{ x: 0, y: hCmgs }, { x: 500, y: hCmgs }], borderColor: '#000', borderWidth: 1.3, borderDash: [4, 2], order: 0 }
    ]
  },
  options: {
    layout: { padding: { left: 0, right: 14, top: 16, bottom: 0 } },
    scales: {
      x: axis({ pos: 'bottom', min: 0, max: 500, ticks: [0, 100, 200, 300, 400, 500], labels: ['0', '100', '200', '300', '400', '500'],
                size: 34, tl: 3, pad: 3, grid: true, title: 'iteration', tpad: { top: 0, bottom: 4 } }),
      y: axis({ pos: 'left', min: 0.328, max: 2.016, ticks: [0.5, 1, 2], labels: ['', '1', '2'], size: 48, tl: 3, pad: 4,
                title: 'RMSE of latents', tpad: { top: 8, bottom: 0 } })
    }
  }
});
htmlLegend(hChart, [722, 190, 61, 57], [
  { ds: 0, l0: 3, l1: 25, tx: 30, y: 10 },
  { ds: 1, l0: 3, l1: 25, tx: 30, y: 22.8 },
  { ds: 2, l0: 3, l1: 25, tx: 30, y: 35.6 },
  { ds: 3, l0: 3, l1: 25, tx: 30, y: 48.4 }
]);
</script>
</body>
</html>
